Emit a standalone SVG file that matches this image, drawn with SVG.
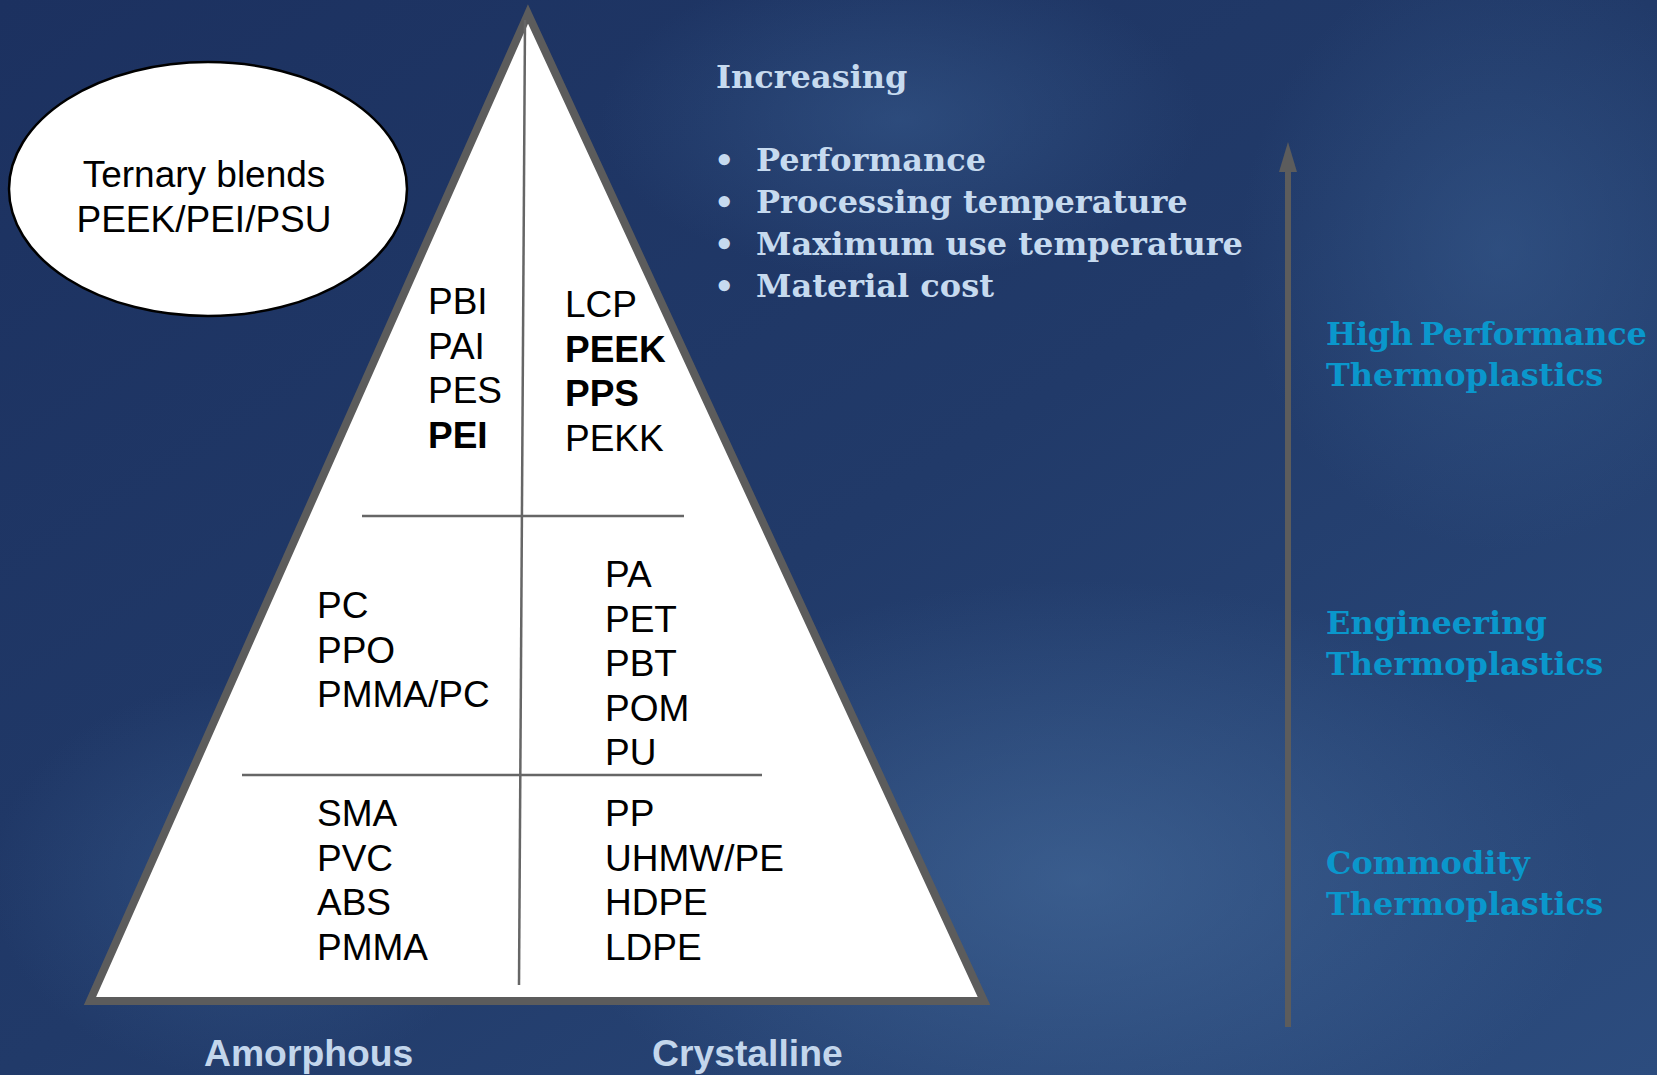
<svg xmlns="http://www.w3.org/2000/svg" width="1657" height="1075" viewBox="0 0 1657 1075">
<defs>
<linearGradient id="bg" x1="0" y1="0" x2="1" y2="1">
<stop offset="0" stop-color="#1c3160"/>
<stop offset="0.5" stop-color="#213a69"/>
<stop offset="1" stop-color="#2c4c7e"/>
</linearGradient>
<radialGradient id="glow1" cx="0.5" cy="0.5" r="0.5">
<stop offset="0" stop-color="#4a72a3" stop-opacity="0.55"/>
<stop offset="1" stop-color="#4a72a3" stop-opacity="0"/>
</radialGradient>
<radialGradient id="glow2" cx="0.5" cy="0.5" r="0.5">
<stop offset="0" stop-color="#3a5f92" stop-opacity="0.5"/>
<stop offset="1" stop-color="#3a5f92" stop-opacity="0"/>
</radialGradient>
<style>
.blk{font-family:"Liberation Sans",Arial,sans-serif;font-size:37px;fill:#000}
.b{font-weight:bold}
.inc{font-family:"DejaVu Serif","Liberation Serif",serif;font-weight:bold;font-size:32px;fill:#c6daef}
.cat{font-family:"DejaVu Serif","Liberation Serif",serif;font-weight:bold;font-size:32px;fill:#0a97cc}
.axis{font-family:"Liberation Sans",Arial,sans-serif;font-weight:bold;font-size:37.3px;fill:#c3d6ec}
.div{stroke:#666;stroke-width:2.5;fill:none}
.arr{stroke:#5c5c5c;stroke-width:6;fill:none}
</style>
</defs>
<rect x="0" y="0" width="1657" height="1075" fill="url(#bg)"/>
<ellipse cx="1080" cy="880" rx="520" ry="300" fill="url(#glow1)"/>
<ellipse cx="900" cy="120" rx="300" ry="160" fill="url(#glow2)"/>
<ellipse cx="1500" cy="250" rx="260" ry="300" fill="url(#glow2)"/>
<ellipse cx="250" cy="880" rx="260" ry="200" fill="url(#glow2)"/>

<g id="pyramid">
<polygon points="528,14 90,1001 984,1001" fill="#ffffff" stroke="#5c5c5c" stroke-width="8"/>
<line class="div" x1="525" y1="20" x2="519" y2="985"/>
<line class="div" x1="362" y1="516" x2="684" y2="516"/>
<line class="div" x1="242" y1="775" x2="762" y2="775"/>
</g>

<g id="high-amorphous">
<text class="blk" x="428" y="314">PBI</text>
<text class="blk" x="428" y="358.5">PAI</text>
<text class="blk" x="428" y="403">PES</text>
<text class="blk b" x="428" y="447.5">PEI</text>
</g>
<g id="high-crystalline">
<text class="blk" x="565" y="317">LCP</text>
<text class="blk b" x="565" y="361.5">PEEK</text>
<text class="blk b" x="565" y="406">PPS</text>
<text class="blk" x="565" y="450.5">PEKK</text>
</g>
<g id="eng-amorphous">
<text class="blk" x="317" y="618">PC</text>
<text class="blk" x="317" y="662.5">PPO</text>
<text class="blk" x="317" y="707">PMMA/PC</text>
</g>
<g id="eng-crystalline">
<text class="blk" x="605" y="587">PA</text>
<text class="blk" x="605" y="631.5">PET</text>
<text class="blk" x="605" y="676">PBT</text>
<text class="blk" x="605" y="720.5">POM</text>
<text class="blk" x="605" y="765">PU</text>
</g>
<g id="com-amorphous">
<text class="blk" x="317" y="826">SMA</text>
<text class="blk" x="317" y="870.5">PVC</text>
<text class="blk" x="317" y="915">ABS</text>
<text class="blk" x="317" y="959.5">PMMA</text>
</g>
<g id="com-crystalline">
<text class="blk" x="605" y="826">PP</text>
<text class="blk" x="605" y="870.5">UHMW/PE</text>
<text class="blk" x="605" y="915">HDPE</text>
<text class="blk" x="605" y="959.5">LDPE</text>
</g>

<g id="ternary">
<ellipse cx="208" cy="189" rx="199" ry="127" fill="#ffffff" stroke="#000" stroke-width="2.5"/>
<text class="blk" x="204" y="187" text-anchor="middle">Ternary blends</text>
<text class="blk" x="204" y="231.5" text-anchor="middle">PEEK/PEI/PSU</text>
</g>

<g id="increasing">
<text class="inc" x="716" y="88">Increasing</text>
<text class="inc" x="714" y="171">•</text>
<text class="inc" x="756" y="171">Performance</text>
<text class="inc" x="714" y="213">•</text>
<text class="inc" x="756" y="213">Processing temperature</text>
<text class="inc" x="714" y="255">•</text>
<text class="inc" x="756" y="255">Maximum use temperature</text>
<text class="inc" x="714" y="297">•</text>
<text class="inc" x="756" y="297">Material cost</text>
</g>

<g id="connectors">
<line class="arr" x1="1288" y1="1027" x2="1288" y2="168"/>
<path d="M1288,142 L1297,172 L1279,172 Z" fill="#5c5c5c"/>
</g>

<g id="high-performance">
<text class="cat" x="1326" y="345" word-spacing="-4" letter-spacing="-0.3">High Performance</text>
<text class="cat" x="1326" y="386">Thermoplastics</text>
</g>
<g id="engineering">
<text class="cat" x="1326" y="634">Engineering</text>
<text class="cat" x="1326" y="675">Thermoplastics</text>
</g>
<g id="commodity">
<text class="cat" x="1326" y="874">Commodity</text>
<text class="cat" x="1326" y="915">Thermoplastics</text>
</g>

<g id="axis-labels">
<text class="axis" x="204" y="1066">Amorphous</text>
<text class="axis" x="652" y="1066">Crystalline</text>
</g>
</svg>
